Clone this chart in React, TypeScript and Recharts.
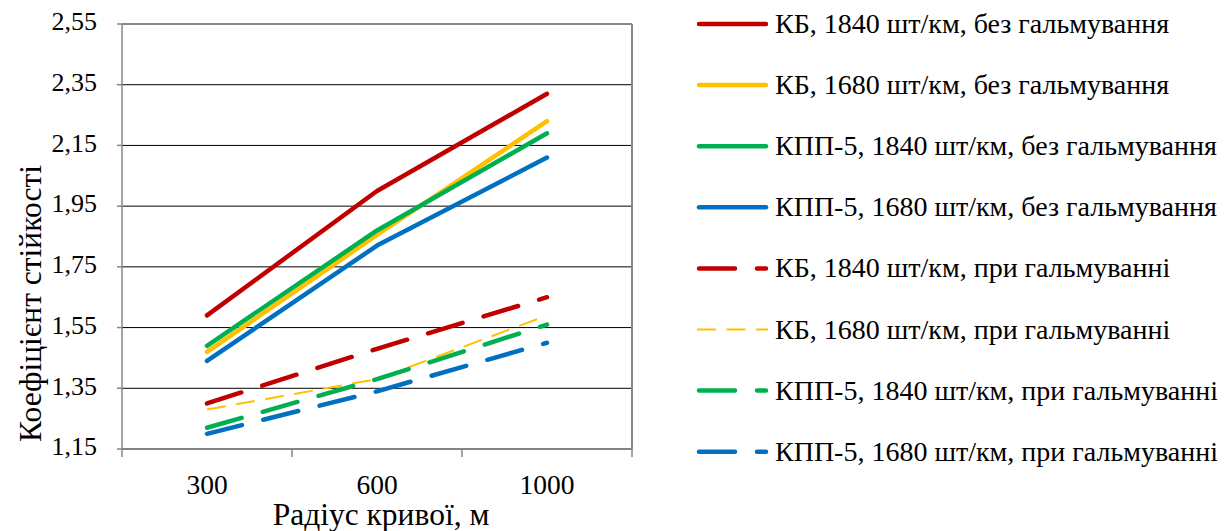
import { LineChart, Line, XAxis, YAxis, CartesianGrid, Legend, ReferenceLine } from 'recharts';

const FONT = '"Liberation Serif", "Times New Roman", serif';

// Радіус кривої, м
const radii = ['300', '600', '1000'];

// без гальмування
const kb1840Free = [1.59, 2.0, 2.32];
const kb1680Free = [1.47, 1.855, 2.23];
const kpp1840Free = [1.49, 1.87, 2.19];
const kpp1680Free = [1.44, 1.82, 2.11];

// при гальмуванні
const kb1840Brake = [1.3, 1.48, 1.65];
const kb1680Brake = [1.28, 1.38, 1.59];
const kpp1840Brake = [1.22, 1.38, 1.56];
const kpp1680Brake = [1.2, 1.34, 1.5];

const yTicks = [1.15, 1.35, 1.55, 1.75, 1.95, 2.15, 2.35, 2.55];

const rows = radii.map((radius, i) => ({
  radius,
  kb1840Free: kb1840Free[i],
  kb1680Free: kb1680Free[i],
  kpp1840Free: kpp1840Free[i],
  kpp1680Free: kpp1680Free[i],
  kb1840Brake: kb1840Brake[i],
  kb1680Brake: kb1680Brake[i],
  kpp1840Brake: kpp1840Brake[i],
  kpp1680Brake: kpp1680Brake[i],
}));

const RED = '#C00000';
const YELLOW = '#FFC000';
const GREEN = '#00B050';
const BLUE = '#0070C0';
const LONG_DASH = '36 22';
const SHORT_DASH = '19 10.5';

type Series = {
  key: string;
  name: string;
  color: string;
  width: number;
  dash?: string;
  cap: 'round' | 'butt';
};

const series: Series[] = [
  { key: 'kb1840Free', name: 'КБ, 1840 шт/км, без гальмування', color: RED, width: 4.5, cap: 'round' },
  { key: 'kb1680Free', name: 'КБ, 1680 шт/км, без гальмування', color: YELLOW, width: 4.5, cap: 'round' },
  { key: 'kpp1840Free', name: 'КПП-5, 1840 шт/км, без гальмування', color: GREEN, width: 4.5, cap: 'round' },
  { key: 'kpp1680Free', name: 'КПП-5, 1680 шт/км, без гальмування', color: BLUE, width: 4.5, cap: 'round' },
  { key: 'kb1840Brake', name: 'КБ, 1840 шт/км, при гальмуванні', color: RED, width: 4.5, dash: LONG_DASH, cap: 'round' },
  { key: 'kb1680Brake', name: 'КБ, 1680 шт/км, при гальмуванні', color: YELLOW, width: 2, dash: SHORT_DASH, cap: 'butt' },
  { key: 'kpp1840Brake', name: 'КПП-5, 1840 шт/км, при гальмуванні', color: GREEN, width: 4.5, dash: LONG_DASH, cap: 'round' },
  { key: 'kpp1680Brake', name: 'КПП-5, 1680 шт/км, при гальмуванні', color: BLUE, width: 4.5, dash: LONG_DASH, cap: 'round' },
];

const BORDER = '#868686';

// category labels sit between tick marks, which mark the band edges
function RadiusTick(props: any) {
  const { x, y, payload, index, visibleTicksCount, width } = props;
  const half =
    typeof payload?.offset === 'number' && payload.offset > 0 ? payload.offset : width / radii.length / 2;
  const isLast = index === visibleTicksCount - 1;
  return (
    <g>
      <line x1={x - half} x2={x - half} y1={y - 8} y2={y} stroke={BORDER} strokeWidth={1.5} />
      {isLast && <line x1={x + half} x2={x + half} y1={y - 8} y2={y} stroke={BORDER} strokeWidth={1.5} />}
      <text x={x} y={y + 37} textAnchor="middle" fontSize={27.5} fontFamily={FONT} fill="#000">
        {payload.value}
      </text>
    </g>
  );
}

function LegendBlock() {
  const top = 24;
  const step = 61.1;
  return (
    <svg width={1225} height={531} style={{ display: 'block' }}>
      {series.map((s, i) => {
        const cy = top + i * step;
        return (
          <g key={s.key}>
            <line
              x1={s.cap === 'round' ? 699 : 697}
              x2={s.cap === 'round' ? 766 : 768}
              y1={cy}
              y2={cy}
              stroke={s.color}
              strokeWidth={s.width}
              strokeDasharray={s.dash}
              strokeLinecap={s.cap}
            />
            <text x={775} y={cy + 9} fontSize={28} fontFamily={FONT} fill="#000">
              {s.name}
            </text>
          </g>
        );
      })}
    </svg>
  );
}

export default function App() {
  return (
    <div style={{ position: 'absolute', left: 0, top: 0, width: 1225, height: 531, background: '#fff' }}>
      <LineChart width={1225} height={531} data={rows} margin={{ top: 24, right: 593, bottom: 0, left: 0 }}>
        <CartesianGrid vertical={false} stroke="#000" strokeWidth={1} />
        <CartesianGrid
          horizontal={false}
          stroke={BORDER}
          strokeWidth={2}
          verticalCoordinatesGenerator={({ offset }: any) => [offset.left + offset.width]}
        />
        <ReferenceLine y={2.55} stroke={BORDER} strokeWidth={2} />
        <XAxis
          dataKey="radius"
          scale="band"
          height={82}
          tickLine={false}
          tickSize={8}
          tickMargin={0}
          axisLine={{ stroke: BORDER, strokeWidth: 1.5 }}
          tick={<RadiusTick />}
          label={{
            content: ({ viewBox }: any) => (
              <text
                x={viewBox.x + viewBox.width / 2 + 4}
                y={viewBox.y + 76}
                textAnchor="middle"
                fontSize={31.5}
                fontFamily={FONT}
                fill="#000"
              >
                Радіус кривої, м
              </text>
            ),
          }}
        />
        <YAxis
          width={122}
          domain={[1.15, 2.55]}
          ticks={yTicks}
          interval={0}
          tickFormatter={(v: number) => v.toFixed(2).replace('.', ',')}
          tickSize={5}
          tickMargin={20}
          axisLine={{ stroke: BORDER, strokeWidth: 1.5 }}
          tickLine={{ stroke: BORDER, strokeWidth: 1.5 }}
          tick={{ fontSize: 26, fill: '#000', fontFamily: FONT, dy: -3 }}
          label={{
            content: ({ viewBox }: any) => (
              <text
                transform={`translate(${viewBox.x + 41}, ${viewBox.y + viewBox.height / 2 + 67}) rotate(-90)`}
                textAnchor="middle"
                fontSize={31.5}
                fontFamily={FONT}
                fill="#000"
              >
                Коефіцієнт стійкості
              </text>
            ),
          }}
        />
        {series.map((s) => (
          <Line
            key={s.key}
            dataKey={s.key}
            name={s.name}
            stroke={s.color}
            strokeWidth={s.width}
            strokeDasharray={s.dash}
            strokeLinecap={s.cap}
            strokeLinejoin="round"
            dot={false}
            activeDot={false}
            isAnimationActive={false}
          />
        ))}
        <Legend
          layout="vertical"
          align="center"
          verticalAlign="middle"
          wrapperStyle={{ left: 0, top: 0, width: 1225, height: 531, pointerEvents: 'none' }}
          content={() => <LegendBlock />}
        />
      </LineChart>
    </div>
  );
}
